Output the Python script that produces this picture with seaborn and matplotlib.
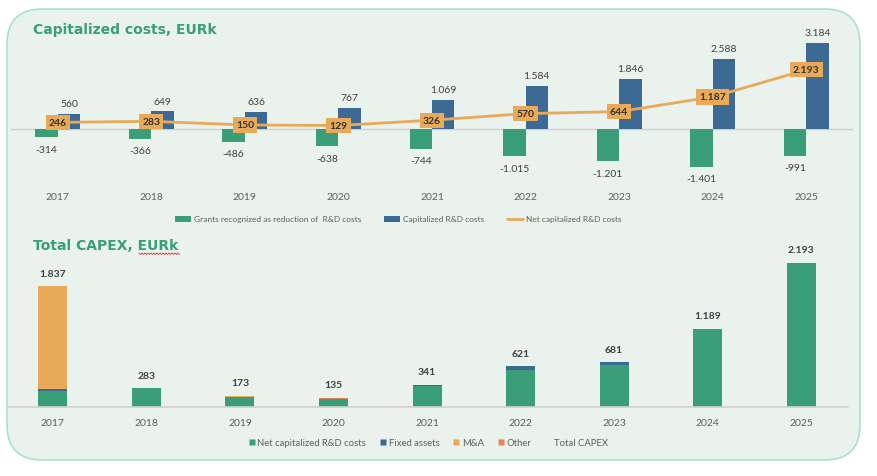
import numpy as np
import pandas as pd
import matplotlib
matplotlib.use("Agg")
import matplotlib.pyplot as plt
from matplotlib.patches import FancyBboxPatch, Patch
from matplotlib.lines import Line2D
import seaborn as sns

# ---------------- data ----------------
years = ["2017", "2018", "2019", "2020", "2021", "2022", "2023", "2024", "2025"]
grants = [-314, -366, -486, -638, -744, -1015, -1201, -1401, -991]
capitalized = [560, 649, 636, 767, 1069, 1584, 1846, 2588, 3184]
net_capitalized = [246, 283, 150, 129, 326, 570, 644, 1187, 2193]

capex_net_rd = [246, 283, 150, 129, 326, 570, 644, 1187, 2193]
capex_fixed = [25, 0, 0, 0, 15, 51, 37, 2, 0]
capex_ma = [1566, 0, 23, 0, 0, 0, 0, 0, 0]
capex_other = [0, 0, 0, 6, 0, 0, 0, 0, 0]
capex_total = [1837, 283, 173, 135, 341, 621, 681, 1189, 2193]

top_series = ["Grants recognized as reduction of  R&D costs", "Capitalized R&D costs"]
net_label = "Net capitalized R&D costs"
bottom_series = ["Net capitalized R&D costs", "Fixed assets", "M&A", "Other"]
total_label = "Total CAPEX"

# ---------------- style ----------------
sns.set_theme(style="white")
plt.rcParams["font.family"] = ["Lato", "DejaVu Sans"]

GREEN = "#3A9E78"
BLUE = "#3D6A95"
ORANGE = "#E8AA58"
OTHER = "#E8825A"
BG = "#E9F2EC"
BORDER = "#A8E2CC"
TXT = "#404040"
LTXT = "#5F5F5F"

W, H = 878, 477
fig = plt.figure(figsize=(W / 100, H / 100), dpi=100)
fig.patch.set_facecolor("white")

panel = FancyBboxPatch((7 / W, 16 / H), 853 / W, 451 / H,
                       boxstyle="round,pad=0,rounding_size=0.04",
                       transform=fig.transFigure, facecolor=BG, edgecolor=BORDER,
                       linewidth=1.2, zorder=-10, mutation_aspect=W / H)
fig.patches.append(panel)

def fmt(v):
    s = f"{abs(int(round(v))):,}".replace(",", ".")
    return ("-" if v < 0 else "") + s

# ---------------- top chart ----------------
ax1 = fig.add_axes([11 / W, (H - 185) / H, 842 / W, 150 / H])
ax1.set_zorder(2)
ax1.set_facecolor("none")
df_top = pd.DataFrame({
    "year": years * 2,
    "value": grants + capitalized,
    "series": [top_series[0]] * len(years) + [top_series[1]] * len(years),
})
sns.barplot(data=df_top, x="year", y="value", hue="series", order=years,
            hue_order=top_series, palette=[GREEN, BLUE], width=0.48,
            saturation=1, legend=False, ax=ax1, zorder=2,
            edgecolor="none", linewidth=0)
ax1.axhline(0, color="#D0D0D0", linewidth=1, zorder=1)
xpos = np.arange(len(years))
sns.lineplot(x=xpos, y=net_capitalized, color=ORANGE, linewidth=2, ax=ax1,
             legend=False, zorder=3)
ax1.set_xlim(-0.5, 8.5)
ax1.set_ylim(-2037, 3518)

for i, (g, c, n) in enumerate(zip(grants, capitalized, net_capitalized)):
    ax1.annotate(fmt(c), (i + 0.12, c), xytext=(0, 7.5), textcoords="offset points",
                 ha="center", va="center", fontsize=7.5, color=TXT)
    ax1.annotate(fmt(g), (i - 0.12, g), xytext=(0, -8.5), textcoords="offset points",
                 ha="center", va="center", fontsize=7.5, color=TXT)
    ax1.text(i, n, fmt(n), ha="center", va="center", fontsize=7.5, fontweight="bold",
             color="#333333", zorder=5,
             bbox=dict(boxstyle="square,pad=0.3", facecolor=ORANGE, edgecolor="none"))

ax1.set_xlabel("")
ax1.set_ylabel("")
ax1.set_yticks([])
ax1.tick_params(axis="x", length=0, pad=6, labelsize=7.5, labelcolor=LTXT)
for s in ax1.spines.values():
    s.set_visible(False)

# ---------------- bottom chart ----------------
ax2 = fig.add_axes([7 / W, (H - 408) / H, 841 / W, 158 / H])
ax2.set_zorder(2)
ax2.set_facecolor("none")
layers = [capex_net_rd, capex_fixed, capex_ma, capex_other]
colors = [GREEN, BLUE, ORANGE, OTHER]
cums = np.cumsum(np.array(layers, dtype=float), axis=0)
for k in range(len(layers) - 1, -1, -1):
    dfk = pd.DataFrame({"year": years, "value": cums[k]})
    sns.barplot(data=dfk, x="year", y="value", order=years, color=colors[k],
                width=0.31, saturation=1, ax=ax2, zorder=2,
                edgecolor="none", linewidth=0)
ax2.axhline(0, color="#D0D0D0", linewidth=1.2, zorder=3, clip_on=False)
ax2.set_xlim(-0.49, 8.5)
ax2.set_ylim(0, 2405)
for i, t in enumerate(capex_total):
    ax2.annotate(fmt(t), (i, t), xytext=(0, 9.5), textcoords="offset points",
                 ha="center", va="center", fontsize=7.5, fontweight="bold", color=TXT)
ax2.set_xlabel("")
ax2.set_ylabel("")
ax2.set_yticks([])
ax2.tick_params(axis="x", length=0, pad=8, labelsize=7.5, labelcolor=LTXT)
for s in ax2.spines.values():
    s.set_visible(False)

# ---------------- titles ----------------
fig.text(33 / W, 1 - 30 / H, "Capitalized costs, EURk", fontsize=10, fontweight="bold",
         color=GREEN, family="DejaVu Sans", va="center", ha="left")
fig.text(33 / W, 1 - 246 / H, "Total CAPEX, EURk", fontsize=10, fontweight="bold",
         color=GREEN, family="DejaVu Sans", va="center", ha="left")
# spell-check squiggle under "EURk" (as in the reference screenshot)
sq_x = np.arange(139, 180.5, 1.5)
sq_y = np.where(np.arange(len(sq_x)) % 2 == 0, 254.0, 255.5)
fig.add_artist(Line2D(sq_x / W, 1 - sq_y / H, color="#E03030", linewidth=0.6,
                      transform=fig.transFigure))

# ---------------- legends ----------------
h_top = [Patch(facecolor=GREEN, edgecolor="none", label=top_series[0]),
         Patch(facecolor=BLUE, edgecolor="none", label=top_series[1]),
         Line2D([0], [0], color=ORANGE, linewidth=2, label=net_label)]
fig.legend(handles=h_top, loc="center", bbox_to_anchor=(398 / W, 1 - 220 / H), ncol=3,
           frameon=False, fontsize=6.0, labelcolor=LTXT, handlelength=2.0,
           handleheight=0.7, handletextpad=0.3, columnspacing=2.7)

h_bot = [Line2D([0], [0], marker="s", color="none", markerfacecolor=c, markeredgecolor="none",
                markersize=5, label=l) for c, l in zip(colors, bottom_series)]
h_bot.append(Line2D([0], [0], color="none", label=total_label))
fig.legend(handles=h_bot, loc="center", bbox_to_anchor=(428 / W, 1 - 444 / H), ncol=5,
           frameon=False, fontsize=6.8, labelcolor=LTXT, handlelength=0.8,
           handletextpad=0.2, columnspacing=1.4)

fig.savefig("out.png", dpi=100, facecolor=fig.get_facecolor())
